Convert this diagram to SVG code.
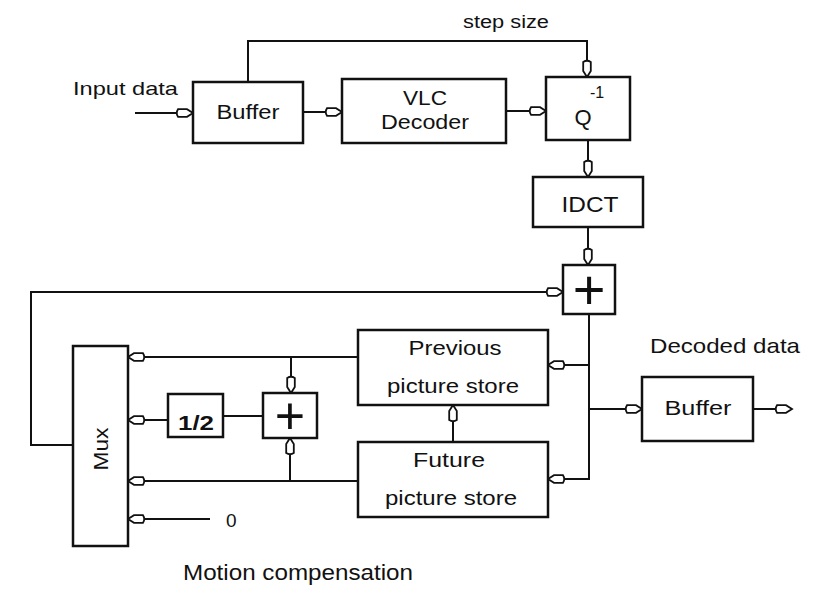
<svg xmlns="http://www.w3.org/2000/svg" width="813" height="594" viewBox="0 0 813 594">
<defs>
<marker id="arr" markerUnits="userSpaceOnUse" markerWidth="21" markerHeight="12" viewBox="-3 -6 21 12" refX="16" refY="0" orient="auto">
<path d="M1,-3.8 H10 L16,0 L10,3.8 H1 Q-1.5,0 1,-3.8 Z" fill="#fff" stroke="#111" stroke-width="1.8"/>
</marker>
<style>
.box{fill:#fff;stroke:#111;stroke-width:2.5}
.ln{fill:none;stroke:#111;stroke-width:2}
.t{font-family:"Liberation Sans",Arial,sans-serif;font-size:20px;fill:#111;text-anchor:middle}
.tl{font-family:"Liberation Sans",Arial,sans-serif;font-size:20px;fill:#111}
.plus{font-family:"Liberation Sans",Arial,sans-serif;font-size:56px;fill:#111;text-anchor:middle}
</style>
</defs>
<rect width="813" height="594" fill="#fff"/>

<g id="connectors">
<path class="ln" d="M135,113 H193" marker-end="url(#arr)"/>
<path class="ln" d="M303,112 H342" marker-end="url(#arr)"/>
<path class="ln" d="M506,111 H546" marker-end="url(#arr)"/>
<path class="ln" d="M248,82 V41 H587 V77" marker-end="url(#arr)"/>
<path class="ln" d="M588,140 V177" marker-end="url(#arr)"/>
<path class="ln" d="M588,227 V265" marker-end="url(#arr)"/>
<path class="ln" d="M73,445 H31 V292 H563" marker-end="url(#arr)"/>
<path class="ln" d="M589,314 V479 H548" marker-end="url(#arr)"/>
<path class="ln" d="M589,365 H548" marker-end="url(#arr)"/>
<path class="ln" d="M589,409 H642" marker-end="url(#arr)"/>
<path class="ln" d="M753,409 H792" marker-end="url(#arr)"/>
<path class="ln" d="M453,442 V405" marker-end="url(#arr)"/>
<path class="ln" d="M358,357 H128" marker-end="url(#arr)"/>
<path class="ln" d="M291,357 V393" marker-end="url(#arr)"/>
<path class="ln" d="M358,481 H128" marker-end="url(#arr)"/>
<path class="ln" d="M290,481 V438" marker-end="url(#arr)"/>
<path class="ln" d="M263,416 H223"/>
<path class="ln" d="M168,420 H128" marker-end="url(#arr)"/>
<path class="ln" d="M210,519 H128" marker-end="url(#arr)"/>
</g>

<g id="labels">
<text class="tl" x="463" y="28" textLength="86" lengthAdjust="spacingAndGlyphs" style="font-size:18px">step size</text>
<text class="tl" x="73" y="95" textLength="105" lengthAdjust="spacingAndGlyphs" style="font-size:19px">Input data</text>
<text class="tl" x="650" y="353" textLength="150" lengthAdjust="spacingAndGlyphs" style="font-size:21px">Decoded data</text>
<text class="tl" x="183" y="580" textLength="230" lengthAdjust="spacingAndGlyphs" style="font-size:22px">Motion compensation</text>
<text class="tl" x="226" y="527" style="font-size:19px">0</text>
</g>

<g id="buffer-in">
<rect class="box" x="193" y="82" width="110" height="61"/>
<text class="t" x="248" y="119" textLength="63" lengthAdjust="spacingAndGlyphs">Buffer</text>
</g>
<g id="vlc-decoder">
<rect class="box" x="342" y="79" width="164" height="64"/>
<text class="t" x="425" y="105" textLength="44" lengthAdjust="spacingAndGlyphs">VLC</text>
<text class="t" x="425" y="129" textLength="88" lengthAdjust="spacingAndGlyphs">Decoder</text>
</g>
<g id="inv-quant">
<rect class="box" x="546" y="77" width="84" height="63"/>
<text class="t" x="583" y="125" style="font-size:22px">Q</text>
<text class="tl" x="590" y="98" style="font-size:16px">-1</text>
</g>
<g id="idct">
<rect class="box" x="533" y="177" width="110" height="50"/>
<text class="t" x="590" y="212" textLength="57" lengthAdjust="spacingAndGlyphs" style="font-size:22px">IDCT</text>
</g>
<g id="adder-main">
<rect class="box" x="563" y="265" width="52" height="49"/>
<text class="plus" x="589" y="309">+</text>
</g>
<g id="previous-store">
<rect class="box" x="358" y="330" width="190" height="75"/>
<text class="t" x="455" y="355" textLength="93" lengthAdjust="spacingAndGlyphs">Previous</text>
<text class="t" x="453" y="393" textLength="132" lengthAdjust="spacingAndGlyphs">picture store</text>
</g>
<g id="future-store">
<rect class="box" x="358" y="442" width="190" height="75"/>
<text class="t" x="449" y="467" textLength="72" lengthAdjust="spacingAndGlyphs">Future</text>
<text class="t" x="451" y="505" textLength="132" lengthAdjust="spacingAndGlyphs">picture store</text>
</g>
<g id="buffer-out">
<rect class="box" x="642" y="377" width="111" height="64"/>
<text class="t" x="698" y="415" textLength="67" lengthAdjust="spacingAndGlyphs">Buffer</text>
</g>
<g id="mux">
<rect class="box" x="73" y="346" width="55" height="200"/>
<text class="t" transform="translate(108,449) rotate(-90)" textLength="43" lengthAdjust="spacingAndGlyphs">Mux</text>
</g>
<g id="half">
<rect class="box" x="168" y="394" width="55" height="43"/>
<text class="t" x="196" y="430" textLength="36" lengthAdjust="spacingAndGlyphs" style="font-weight:bold">1/2</text>
</g>
<g id="adder-mc">
<rect class="box" x="263" y="393" width="54" height="45"/>
<text class="plus" x="290" y="434" style="font-size:52px">+</text>
</g>
</svg>
